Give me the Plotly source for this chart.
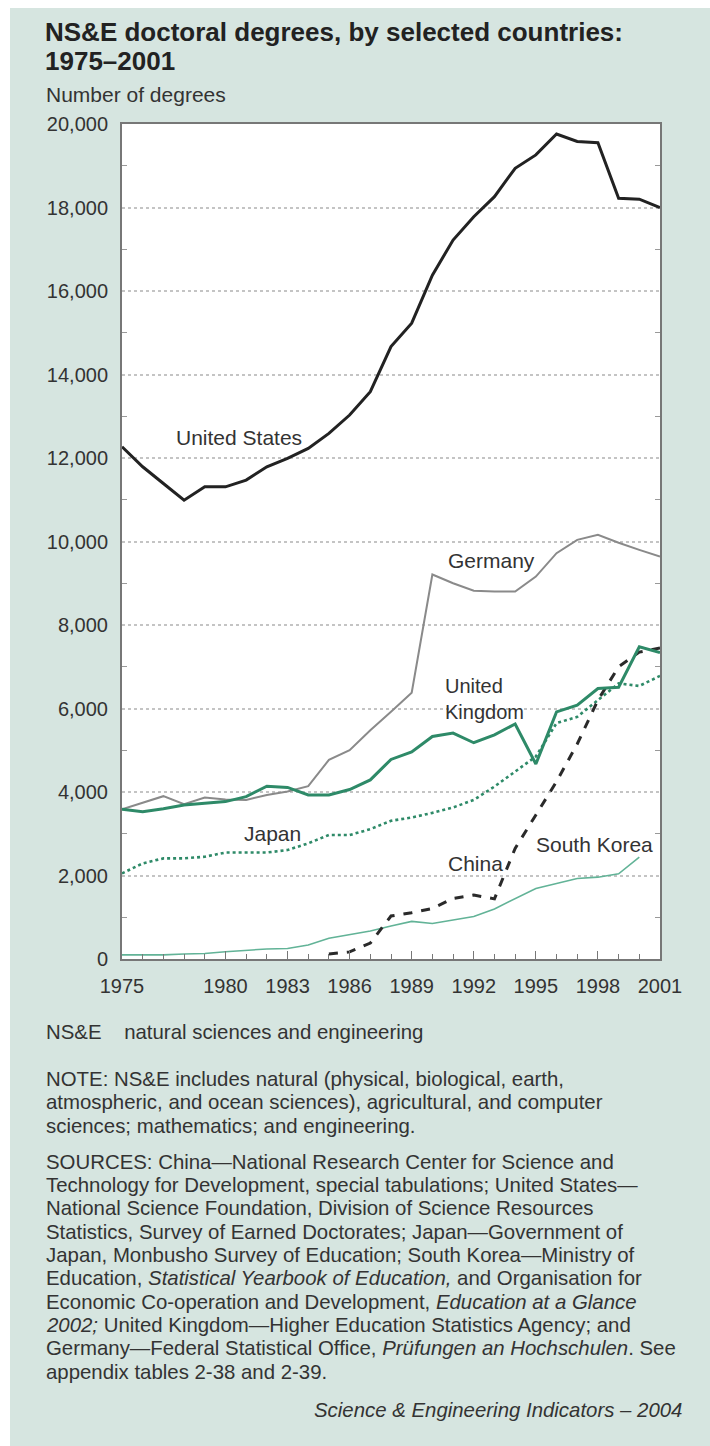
import plotly.graph_objects as go

# ---------------- data ----------------
years = list(range(1975, 2002))
us = [12270, 11790, 11390, 10990, 11310, 11310, 11470, 11790, 11990, 12230,
      12590, 13030, 13590, 14670, 15230, 16380, 17220, 17780, 18260, 18940,
      19260, 19760, 19580, 19550, 18220, 18200, 18000]
germany = [3585, 3740, 3900, 3710, 3870, 3820, 3810, 3930, 4010, 4140,
           4770, 5000, 5480, 5920, 6380, 9210, 9000, 8820, 8800, 8800,
           9160, 9720, 10040, 10160, 9970, 9800, 9640]
uk = [3585, 3530, 3600, 3690, 3730, 3770, 3890, 4140, 4110, 3930,
      3930, 4060, 4290, 4780, 4960, 5330, 5410, 5180, 5370, 5630,
      4670, 5920, 6080, 6480, 6510, 7480, 7340]
japan = [2050, 2290, 2410, 2410, 2450, 2550, 2550, 2550, 2610, 2770,
         2970, 2970, 3110, 3310, 3390, 3500, 3630, 3810, 4130, 4490,
         4850, 5650, 5800, 6200, 6600, 6540, 6780]
south_korea = [100, 100, 100, 120, 130, 175, 210, 240, 250, 335,
               495, 590, 670, 790, 900, 850, 930, 1020, 1200, 1450,
               1690, 1810, 1930, 1960, 2040, 2440, None]
china = [None] * 10 + [120, 170, 380, 1030, 1110, 1210, 1450, 1530, 1440, 2650,
                       3450, 4250, 5150, 6200, 7000, 7350, 7450]

x_tick_years = [1975, 1980, 1983, 1986, 1989, 1992, 1995, 1998, 2001]
y_tick_vals = list(range(0, 20001, 2000))
y_tick_text = [f"{v:,}" for v in y_tick_vals]
y_minor_vals = list(range(1000, 20000, 2000))

# ---------------- styling ----------------
FONT = "Liberation Sans, Arial, Helvetica, sans-serif"
BG = "#d6e5e0"
TXT = "#333333"
GREEN = "#2e8a68"
LIGHT_GREEN = "#62b397"

W, H = 710, 1446
L, R, T, B = 122, 660, 124, 959  # plot area in pixels


def px(xp):
    return (xp - L) / (R - L)


def py(yp):
    return (B - yp) / (B - T)


fig = go.Figure()

fig.add_trace(go.Scatter(x=years, y=south_korea, mode="lines",
                         line=dict(color=LIGHT_GREEN, width=1.6), name="South Korea"))
fig.add_trace(go.Scatter(x=years, y=japan, mode="lines",
                         line=dict(color=GREEN, width=2.6, dash="dot"), name="Japan"))
fig.add_trace(go.Scatter(x=years, y=germany, mode="lines",
                         line=dict(color="#8a8a8a", width=2), name="Germany"))
fig.add_trace(go.Scatter(x=years, y=china, mode="lines",
                         line=dict(color="#2a2a2a", width=3, dash="dash"), name="China"))
fig.add_trace(go.Scatter(x=years, y=uk, mode="lines",
                         line=dict(color=GREEN, width=3), name="United Kingdom"))
fig.add_trace(go.Scatter(x=years, y=us, mode="lines",
                         line=dict(color="#222222", width=3), name="United States"))

annotations = []


def txt(text, x, y, size=20, xanchor="left", bold=False, align="left"):
    annotations.append(dict(
        text=f"<b>{text}</b>" if bold else text, x=x, y=y, xref="paper", yref="paper",
        xanchor=xanchor, yanchor="middle", showarrow=False, align=align,
        font=dict(family=FONT, size=size, color=TXT if not bold else "#222222")))


# Title block
txt("NS&E doctoral degrees, by selected countries:", px(43), py(32), size=26, bold=True)
txt("1975–2001", px(43), py(61), size=26, bold=True)
txt("Number of degrees", px(44), py(95), size=21)

# Series labels (pixel positions)
txt("United States", px(239), py(437), size=21, xanchor="center")
txt("Germany", px(491), py(560), size=21, xanchor="center")
txt("United<br>Kingdom", px(443), py(699), size=20)
txt("Japan", px(272), py(833), size=21, xanchor="center")
txt("China", px(475), py(863), size=21, xanchor="center")
txt("South Korea", px(594), py(844), size=21, xanchor="center")

# Footnotes
FOOT = 20.4
foot = [
    (1032, "NS&E    natural sciences and engineering"),
    (1079, "NOTE: NS&E includes natural (physical, biological, earth,"),
    (1102, "atmospheric, and ocean sciences), agricultural, and computer"),
    (1126, "sciences; mathematics; and engineering."),
    (1162, "SOURCES: China—National Research Center for Science and"),
    (1185, "Technology for Development, special tabulations; United States—"),
    (1208, "National Science Foundation, Division of Science Resources"),
    (1232, "Statistics, Survey of Earned Doctorates; Japan—Government of"),
    (1255, "Japan, Monbusho Survey of Education; South Korea—Ministry of"),
    (1278, "Education, <i>Statistical Yearbook of Education,</i> and Organisation for"),
    (1302, "Economic Co-operation and Development, <i>Education at a Glance</i>"),
    (1325, "<i>2002;</i> United Kingdom—Higher Education Statistics Agency; and"),
    (1348, "Germany—Federal Statistical Office, <i>Prüfungen an Hochschulen</i>. See"),
    (1372, "appendix tables 2-38 and 2-39."),
]
for yy, s in foot:
    txt(s, px(44), py(yy), size=FOOT)
txt("<i>Science & Engineering Indicators – 2004</i>", px(684), py(1410), size=FOOT, xanchor="right")

shapes = [
    # white strips at left and top of the picture
    dict(type="rect", xref="paper", yref="paper", x0=px(0), x1=px(10), y0=py(H), y1=py(0),
         fillcolor="white", line=dict(width=0), layer="below"),
    dict(type="rect", xref="paper", yref="paper", x0=px(0), x1=px(W), y0=py(8), y1=py(0),
         fillcolor="white", line=dict(width=0), layer="below"),
]

fig.update_layout(
    width=W, height=H,
    margin=dict(l=L, r=W - R, t=T, b=H - B, pad=0),
    paper_bgcolor=BG, plot_bgcolor="white",
    showlegend=False,
    annotations=annotations,
    shapes=shapes,
    font=dict(family=FONT, size=20, color=TXT),
)

fig.update_xaxes(
    range=[1975, 2001], tickmode="array", tickvals=x_tick_years,
    ticktext=[str(y) for y in x_tick_years],
    ticks="inside", ticklen=8, tickwidth=1.2, tickcolor="#777",
    minor=dict(tickmode="linear", tick0=1975, dtick=1, ticks="inside", ticklen=5,
               tickwidth=1.2, tickcolor="#777", showgrid=False),
    showline=True, linecolor="#777", linewidth=2, mirror=True,
    showgrid=False, zeroline=False,
    tickfont=dict(family=FONT, size=20, color=TXT),
    ticklabelstandoff=8,
)
fig.update_yaxes(
    range=[0, 20000], tickmode="array", tickvals=y_tick_vals, ticktext=y_tick_text,
    ticks="",
    minor=dict(tickmode="array", tickvals=y_minor_vals, ticks="inside", ticklen=5,
               tickwidth=1.2, tickcolor="#999", showgrid=False),
    showline=True, linecolor="#777", linewidth=2, mirror="ticks",
    showgrid=True, gridcolor="#c4c4c4", gridwidth=1.5, griddash="dot",
    zeroline=False,
    tickfont=dict(family=FONT, size=20, color=TXT),
    ticklabelstandoff=8,
)

fig.write_html("out.html", config={"displayModeBar": False},
               post_script="document.body.style.margin='0px';")
